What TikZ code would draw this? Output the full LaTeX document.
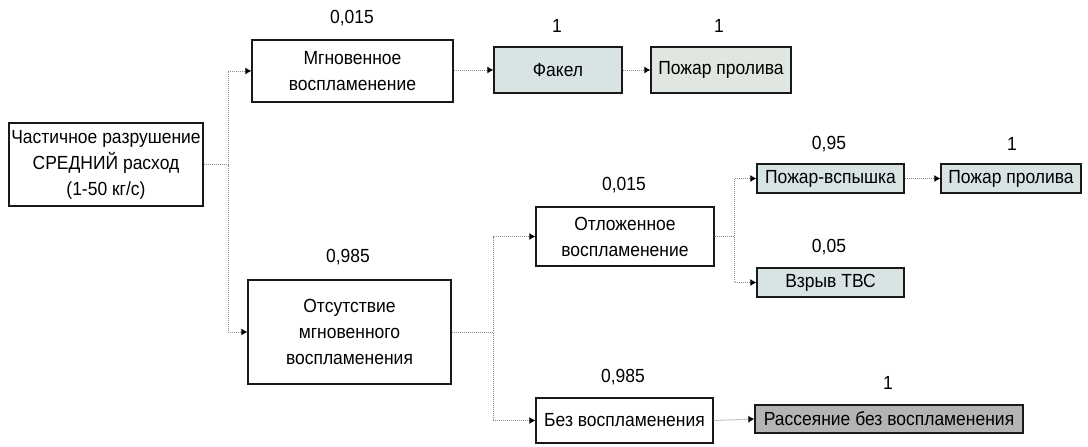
\documentclass[tikz,border=0pt]{standalone}
\usepackage{fontspec}
\setmainfont{Liberation Sans}[FakeStretch=0.92]
\usetikzlibrary{arrows.meta}
\definecolor{boxcyan}{HTML}{D8E4E4}
\definecolor{boxgreen}{HTML}{E0E6E0}
\definecolor{boxgray}{HTML}{B4B4B4}
\definecolor{linegray}{HTML}{8C8C8C}
\tikzset{
  box/.style={draw=black!90, line width=1.3pt, fill=white, inner sep=0pt, align=center,
    font=\fontsize{19}{26}\selectfont},
  conn/.style={draw=linegray, line width=1pt, dash pattern=on 1pt off 1pt,
    -{Latex[length=6pt,width=7pt,color=black]}},
  prob/.style={font=\fontsize{19}{20}\selectfont, inner sep=0pt}
}
\begin{document}
\begin{tikzpicture}[x=1pt,y=-1pt]
\useasboundingbox (0,0) rectangle (1088,447);
% boxes
\node[box, minimum width=194pt, minimum height=83pt] (root) at (106,164.5) {Частичное разрушение\\СРЕДНИЙ расход\\(1-50 кг/с)};
\node[box, minimum width=201pt, minimum height=62pt] (mgn) at (352.5,71) {Мгновенное\\воспламенение};
\node[box, fill=boxcyan, minimum width=128pt, minimum height=46pt] (fak) at (558,70) {Факел};
\node[box, fill=boxgreen, minimum width=140pt, minimum height=46pt] (pp1) at (721,70) {Пожар пролива};
\node[box, minimum width=203pt, minimum height=104pt] (ots) at (349.5,332) {Отсутствие\\мгновенного\\воспламенения};
\node[box, minimum width=178pt, minimum height=59pt] (otl) at (625,236.5) {Отложенное\\воспламенение};
\node[box, minimum width=177pt, minimum height=45pt] (bez) at (624.5,420.5) {Без воспламенения};
\node[box, fill=boxcyan, minimum width=147pt, minimum height=29pt] (pv) at (830.5,178.5) {Пожар-вспышка};
\node[box, fill=boxcyan, minimum width=140pt, minimum height=29pt] (pp2) at (1011,178.5) {Пожар пролива};
\node[box, fill=boxcyan, minimum width=147pt, minimum height=29pt] (vz) at (830.5,282.5) {Взрыв ТВС};
\node[box, fill=boxgray, minimum width=268pt, minimum height=28pt] (ras) at (889,419) {Рассеяние без воспламенения};
% probabilities
\node[prob] (p1) at (352,18) {0,015};
\node[prob] (p2) at (557,26) {1};
\node[prob] (p3) at (719,26) {1};
\node[prob] (p4) at (829,144) {0,95};
\node[prob] (p5) at (1012,144) {1};
\node[prob] (p6) at (624,185) {0,015};
\node[prob] (p7) at (829,247) {0,05};
\node[prob] (p8) at (348,257) {0,985};
\node[prob] (p9) at (623,377) {0,985};
\node[prob] (p10) at (888,383) {1};
% junctions
\coordinate (j1) at (228,0);
\coordinate (j2) at (493,0);
\coordinate (j3) at (734,0);
% connectors
\draw[conn] (root.east) -- (root.east -| j1) |- (mgn.west);
\draw[conn] (root.east) -- (root.east -| j1) |- (ots.west);
\draw[conn] (mgn.east |- fak.west) -- (fak.west);
\draw[conn] (fak.east) -- (pp1.west);
\draw[conn] (ots.east) -- (ots.east -| j2) |- (otl.west);
\draw[conn] (ots.east) -- (ots.east -| j2) |- (bez.west);
\draw[conn] (otl.east) -- (otl.east -| j3) |- (pv.west);
\draw[conn] (otl.east) -- (otl.east -| j3) |- (vz.west);
\draw[conn] (pv.east) -- (pp2.west);
\draw[conn] (bez.east) -- (ras.west);
\end{tikzpicture}
\end{document}
